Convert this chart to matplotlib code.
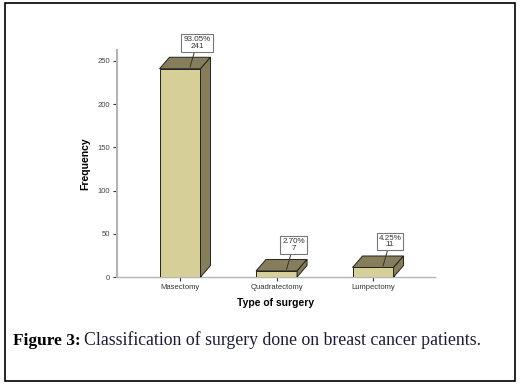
import matplotlib
matplotlib.use("Agg")
import matplotlib.pyplot as plt
from matplotlib.patches import Polygon, Rectangle

# data
categories = ["Masectomy", "Quadratectomy", "Lumpectomy"]
counts = [241, 7, 11]
percents = ["93.05%", "2.70%", "4.25%"]
yticks = [0, 50, 100, 150, 200, 250]

front = "#d6cf97"
dark = "#867e5b"
axis_grey = "#b4b4b4"

W, H = 529, 388
fig = plt.figure(figsize=(W / 100, H / 100), dpi=100)
fig.patch.set_facecolor("white")

# outer frame
fig.patches.append(Rectangle((5 / W, 7 / H), 510 / W, 378 / H, transform=fig.transFigure,
                             fill=False, edgecolor="black", linewidth=1.2))

ax = fig.add_axes([117 / W, 1 - 277 / H, 318 / W, 227 / H])
ax.set_xlim(-0.653, 2.642)
ax.set_ylim(0, 262.7)

# pixel -> data scales
px_x = 3.295 / 318
px_y = 262.7 / 227
dx, dy = 10 * px_x, 11.5 * px_y
bw = 0.425

for i, v in enumerate(counts):
    x0, x1 = i - bw / 2, i + bw / 2
    ax.add_patch(Rectangle((x0, 0), bw, v, facecolor=front, edgecolor="#222222", linewidth=0.7, zorder=3))
    ax.add_patch(Polygon([(x0, v), (x1, v), (x1 + dx, v + dy), (x0 + dx, v + dy)], closed=True,
                         facecolor=dark, edgecolor="#222222", linewidth=0.7, zorder=3, clip_on=False))
    ax.add_patch(Polygon([(x1, 0), (x1 + dx, dy), (x1 + dx, v + dy), (x1, v)], closed=True,
                         facecolor=dark, edgecolor="#222222", linewidth=0.7, zorder=3, clip_on=False))
    ax.annotate(percents[i] + "\n" + str(v), xy=(i + 10 * px_x, v + 1.5 * px_y), xycoords="data",
                xytext=(i + 17 * px_x, v + 26 * px_y), textcoords="data",
                ha="center", va="center", fontsize=5.8, family="Liberation Sans", color="#333333",
                linespacing=0.95,
                bbox=dict(boxstyle="square,pad=0.25", facecolor="white", edgecolor="#777777", linewidth=0.8),
                arrowprops=dict(arrowstyle="-", color="#333333", linewidth=0.7, shrinkA=0, shrinkB=0),
                zorder=5, annotation_clip=False)

for s in ["top", "right"]:
    ax.spines[s].set_visible(False)
ax.spines["left"].set_color(axis_grey)
ax.spines["left"].set_linewidth(1.5)
ax.spines["bottom"].set_color(axis_grey)
ax.spines["bottom"].set_linewidth(1.0)

ax.set_xticks(range(len(categories)))
ax.set_xticklabels(categories, fontsize=5.5, family="Liberation Sans", color="#333333")
ax.set_yticks(yticks)
ax.set_yticklabels([str(t) for t in yticks], fontsize=5.5, family="Liberation Sans", color="#444444")
ax.tick_params(axis="both", length=3, width=0.8, color="#333333", pad=2)

ax.set_xlabel("Type of surgery", fontsize=7.5, fontweight="bold", family="Liberation Sans", labelpad=5)
ax.set_ylabel("Frequency", fontsize=7.5, fontweight="bold", family="Liberation Sans", labelpad=5)

fig.text(13 / W, 1 - 345 / H, "Figure 3:", fontsize=12.5, fontweight="bold", family="Liberation Serif",
         color="black", va="baseline")
fig.text(84 / W, 1 - 345 / H, "Classification of surgery done on breast cancer patients.", fontsize=12.8,
         family="Liberation Serif", color="#1c1c3a", va="baseline")

fig.savefig("out.png", dpi=100)
